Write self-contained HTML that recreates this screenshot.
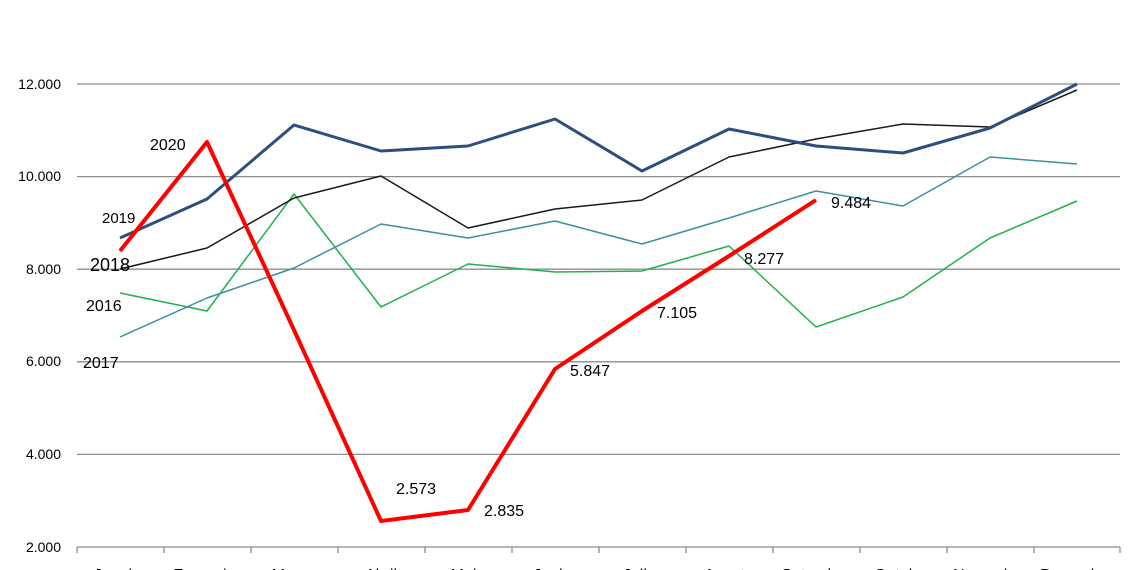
<!DOCTYPE html>
<html><head><meta charset="utf-8"><style>body{margin:0;background:#fff}svg{display:block}text{font-family:"Liberation Sans",sans-serif;fill:#000}</style></head>
<body>
<svg width="1140" height="570" viewBox="0 0 1140 570">
<g stroke="#8c8c8c" stroke-width="1.3">
<line x1="77" y1="84" x2="1120" y2="84"/><line x1="77" y1="176.6" x2="1120" y2="176.6"/><line x1="77" y1="269.2" x2="1120" y2="269.2"/><line x1="77" y1="361.8" x2="1120" y2="361.8"/><line x1="77" y1="454.4" x2="1120" y2="454.4"/><line x1="77" y1="547" x2="1120" y2="547"/>
<path d="M77 547v6M164 547v6M251 547v6M338 547v6M425 547v6M512 547v6M599 547v6M686 547v6M773 547v6M860 547v6M947 547v6M1034 547v6M1120 547v6"/>
</g>
<g font-size="14" text-anchor="end">
<text x="61" y="89">12.000</text><text x="61" y="181">10.000</text><text x="61" y="274">8.000</text><text x="61" y="366">6.000</text><text x="61" y="459">4.000</text><text x="61" y="552">2.000</text>
</g>
<g font-size="16" text-anchor="middle">
<text x="120" y="580">Janeiro</text><text x="207" y="580">Fevereiro</text><text x="294" y="580">Março</text><text x="381" y="580">Abril</text><text x="468" y="580">Maio</text><text x="555" y="580">Junho</text><text x="642" y="580">Julho</text><text x="729" y="580">Agosto</text><text x="816" y="580">Setembro</text><text x="903" y="580">Outubro</text><text x="990" y="580">Novembro</text><text x="1077" y="580">Dezembro</text>
</g>
<g fill="none" stroke-linejoin="round">
<polyline stroke="#22b14c" stroke-width="1.5" points="120,293 207,311 294,194 381,307 468,264 555,272 642,271 729,246 816,327 903,297 990,238 1077,201"/>
<polyline stroke="#3c8fa0" stroke-width="1.5" points="120,337 207,298 294,268 381,224 468,238 555,221 642,244 729,218 816,191 903,206 990,157 1077,164"/>
<polyline stroke="#1a1a1a" stroke-width="1.5" points="120,269 207,248 294,198 381,176 468,228 555,209 642,200 729,157 816,139 903,124 990,127 1077,90"/>
<polyline stroke="#2e4e7e" stroke-width="3" points="120,238 207,199 294,125 381,151 468,146 555,119 642,171 729,129 816,146 903,153 990,128 1077,84"/>
<polyline stroke="#ff0000" stroke-width="4" points="120,251 207,142 294,330 381,521 468,510 555,369 642,311 729,256 816,200"/>
</g>
<g font-size="16">
<text x="150" y="150">2020</text><text x="102" y="223" font-size="15">2019</text><text x="90" y="271" font-size="18">2018</text><text x="86" y="311">2016</text><text x="83" y="368">2017</text>
<text x="396" y="494">2.573</text><text x="484" y="516">2.835</text><text x="570" y="376">5.847</text><text x="657" y="318">7.105</text><text x="744" y="264">8.277</text><text x="831" y="208">9.484</text>
</g>
</svg>
</body></html>
